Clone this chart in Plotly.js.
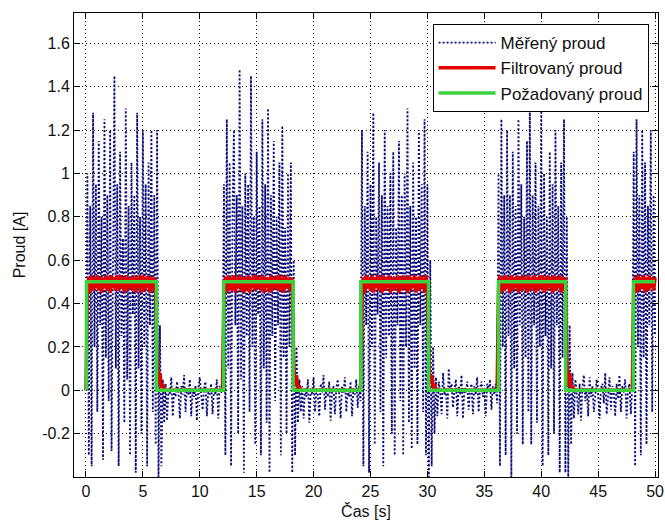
<!DOCTYPE html>
<html>
<head>
<meta charset="utf-8">
<script src="https://cdn.plot.ly/plotly-3.0.1.min.js"></script>
<style>
html,body{margin:0;padding:0;background:#fff;}
#chart{width:665px;height:525px;}
</style>
</head>
<body>
<div id="chart"></div>
<script>
// Sampling of the measured and filtered signals (seconds)
var sampleStart = 0;
var sampleStep = 0.125;

// Měřený proud – one row per second (8 samples), last value at t = 50 s
var measuredCurrent = [
  0.00, 1.00, -0.30, 0.85, -0.35, 1.28, 0.20, 0.95,
  -0.10, 1.15, 0.30, 0.80, -0.32, 1.25, 0.15, 0.90,
  -0.05, 1.20, -0.28, 0.75, 1.45, 0.10, 0.95, -0.35,
  1.10, 0.25, 0.70, -0.15, 1.30, 0.05, 0.85, -0.30,
  1.05, 0.35, 0.90, -0.38, 1.28, 0.10, 0.80, -0.20,
  1.20, 0.20, 0.95, -0.35, 1.05, 0.30, 1.20, -0.10,
  0.90, -0.25, 1.20, -0.40, 0.30, -0.35, 0.05, -0.15,
  0.03, -0.14, 0.01, -0.02, 0.06, -0.12, 0.00, -0.03,
  0.04, -0.01, -0.13, 0.02, -0.02, 0.07, -0.10, 0.01,
  -0.02, 0.05, -0.12, 0.00, -0.03, 0.02, -0.14, 0.01,
  0.06, -0.02, -0.09, 0.01, 0.04, -0.12, 0.00, -0.02,
  0.03, -0.11, 0.01, -0.02, 0.05, -0.13, 0.02, -0.01,
  0.00, 0.95, -0.30, 1.25, 0.10, 1.05, -0.35, 0.80,
  1.20, 0.30, 0.90, -0.20, 1.48, 0.05, 0.85, -0.38,
  1.00, 0.25, 0.95, -0.10, 1.45, 0.20, 0.80, -0.25,
  1.10, 0.35, 0.85, -0.30, 1.25, 0.10, 0.95, -0.15,
  1.30, -0.38, 0.90, 0.25, 1.15, -0.05, 0.80, 0.30,
  1.05, -0.30, 1.22, 0.15, 0.75, -0.20, 1.00, 0.20,
  1.05, -0.38, 0.60, -0.30, 0.20, -0.15, 0.05, -0.10,
  0.02, -0.13, 0.01, -0.03, 0.05, -0.15, 0.00, -0.02,
  0.06, -0.10, 0.01, -0.02, -0.12, 0.03, -0.01, 0.07,
  -0.09, 0.01, -0.03, 0.04, -0.14, 0.00, 0.02, -0.11,
  0.01, 0.05, -0.02, -0.13, 0.02, -0.01, 0.06, -0.10,
  0.00, -0.03, 0.04, -0.12, 0.01, -0.02, 0.05, -0.08,
  0.02, -0.05, 1.20, -0.35, 0.85, 0.30, 1.10, -0.38,
  0.95, 0.20, 1.28, -0.25, 0.80, 0.35, 1.05, -0.10,
  0.90, -0.35, 1.20, 0.15, 0.85, 0.25, 1.00, -0.20,
  1.10, -0.30, 0.75, 0.30, 1.15, -0.05, 0.90, -0.30,
  1.00, 0.20, 1.30, -0.15, 0.85, -0.27, 1.05, 0.10,
  0.80, -0.25, 1.20, 0.30, 0.95, -0.10, 1.25, -0.30,
  0.95, -0.40, 0.60, -0.35, 0.20, -0.20, 0.06, -0.12,
  0.04, -0.01, -0.11, 0.08, -0.02, 0.01, -0.13, 0.10,
  -0.01, 0.03, -0.08, 0.00, 0.05, -0.12, 0.02, -0.02,
  0.07, -0.13, 0.01, -0.01, 0.04, -0.09, 0.00, 0.03,
  -0.11, 0.02, -0.02, 0.06, -0.10, 0.01, 0.04, -0.03,
  0.00, -0.12, 0.03, -0.01, 0.05, -0.09, 0.02, -0.02,
  0.03, -0.06, 1.00, -0.35, 1.25, 0.20, 0.90, -0.30,
  1.20, 0.25, 0.90, -0.40, 1.10, 0.10, 0.85, -0.20,
  1.25, 0.30, 0.95, -0.25, 0.80, 0.15, 1.15, -0.10,
  1.30, -0.25, 0.90, 0.30, 1.05, -0.15, 0.85, 0.20,
  1.30, -0.35, 1.00, 0.25, 0.80, -0.30, 1.10, 0.10,
  0.95, -0.20, 1.20, 0.30, 0.85, -0.38, 1.05, 0.15,
  1.25, -0.38, 0.80, -0.40, 0.30, -0.25, 0.08, -0.13,
  0.05, -0.01, -0.11, 0.03, -0.14, 0.02, 0.07, -0.05,
  0.01, -0.12, 0.06, -0.03, 0.02, -0.10, 0.00, 0.05,
  -0.02, -0.13, 0.01, 0.03, -0.06, 0.08, -0.11, 0.00,
  0.06, -0.09, 0.02, -0.01, -0.12, 0.03, -0.04, 0.07,
  -0.10, 0.02, -0.01, 0.05, -0.13, 0.00, 0.03, -0.11,
  0.02, 1.10, -0.35, 1.25, 0.20, 0.90, -0.30, 1.20,
  0.15, 1.05, -0.25, 0.85, 0.30, 1.20, -0.10, 0.90,
  0.25
];

// Filtrovaný proud – same sampling
var filteredCurrent = [
  0.00, 0.46, 0.52, 0.45, 0.53, 0.46, 0.52, 0.47,
  0.53, 0.46, 0.52, 0.45, 0.52, 0.47, 0.53, 0.46,
  0.52, 0.45, 0.53, 0.47, 0.52, 0.46, 0.53, 0.46,
  0.53, 0.47, 0.52, 0.45, 0.53, 0.46, 0.52, 0.47,
  0.52, 0.46, 0.53, 0.45, 0.52, 0.47, 0.53, 0.45,
  0.53, 0.46, 0.52, 0.47, 0.53, 0.45, 0.52, 0.46,
  0.52, 0.47, 0.13, 0.03, 0.08, 0.01, 0.03, 0.00,
  0, 0, 0, 0, 0, 0, 0, 0,
  0, 0, 0, 0, 0, 0, 0, 0,
  0, 0, 0, 0, 0, 0, 0, 0,
  0, 0, 0, 0, 0, 0, 0, 0,
  0, 0, 0, 0, 0, 0, 0, 0,
  0.00, 0.47, 0.52, 0.45, 0.53, 0.46, 0.52, 0.46,
  0.53, 0.45, 0.52, 0.47, 0.53, 0.46, 0.52, 0.45,
  0.52, 0.46, 0.53, 0.45, 0.52, 0.47, 0.53, 0.46,
  0.53, 0.47, 0.52, 0.46, 0.53, 0.45, 0.52, 0.47,
  0.52, 0.45, 0.53, 0.46, 0.52, 0.47, 0.53, 0.46,
  0.53, 0.46, 0.52, 0.45, 0.53, 0.47, 0.52, 0.46,
  0.52, 0.46, 0.12, 0.02, 0.07, 0.01, 0.02, 0.00,
  0, 0, 0, 0, 0, 0, 0, 0,
  0, 0, 0, 0, 0, 0, 0, 0,
  0, 0, 0, 0, 0, 0, 0, 0,
  0, 0, 0, 0, 0, 0, 0, 0,
  0, 0, 0, 0, 0, 0, 0, 0,
  0.00, 0.00, 0.46, 0.52, 0.45, 0.53, 0.47, 0.52,
  0.46, 0.53, 0.45, 0.52, 0.47, 0.53, 0.46, 0.52,
  0.45, 0.53, 0.46, 0.52, 0.47, 0.53, 0.45, 0.52,
  0.46, 0.52, 0.47, 0.53, 0.45, 0.52, 0.46, 0.53,
  0.47, 0.52, 0.45, 0.53, 0.46, 0.52, 0.47, 0.53,
  0.45, 0.52, 0.46, 0.53, 0.47, 0.52, 0.45, 0.53,
  0.46, 0.12, 0.03, 0.07, 0.01, 0.03, 0.00, 0.00,
  0, 0, 0, 0, 0, 0, 0, 0,
  0, 0, 0, 0, 0, 0, 0, 0,
  0, 0, 0, 0, 0, 0, 0, 0,
  0, 0, 0, 0, 0, 0, 0, 0,
  0, 0, 0, 0, 0, 0, 0, 0,
  0.00, 0.00, 0.47, 0.53, 0.45, 0.52, 0.46, 0.53,
  0.47, 0.52, 0.45, 0.53, 0.46, 0.52, 0.47, 0.53,
  0.45, 0.52, 0.46, 0.53, 0.47, 0.52, 0.45, 0.53,
  0.46, 0.52, 0.47, 0.53, 0.45, 0.52, 0.46, 0.53,
  0.47, 0.53, 0.45, 0.52, 0.46, 0.53, 0.47, 0.52,
  0.45, 0.53, 0.46, 0.52, 0.47, 0.53, 0.45, 0.52,
  0.46, 0.52, 0.12, 0.02, 0.08, 0.01, 0.02, 0.00,
  0, 0, 0, 0, 0, 0, 0, 0,
  0, 0, 0, 0, 0, 0, 0, 0,
  0, 0, 0, 0, 0, 0, 0, 0,
  0, 0, 0, 0, 0, 0, 0, 0,
  0, 0, 0, 0, 0, 0, 0, 0,
  0.00, 0.47, 0.52, 0.45, 0.53, 0.46, 0.52, 0.47,
  0.53, 0.45, 0.52, 0.46, 0.53, 0.47, 0.52, 0.46,
  0.52
];

// Požadovaný proud – step profile (switch times and levels)
var switchTimes = [0.05, 0.05, 6.2, 12.1, 18.2, 24.15, 30.1, 36.25, 42.15, 48.1, 50];
var requiredLevels = [0, 0.5, 0, 0.5, 0, 0.5, 0, 0.5, 0, 0.5, 0.5];

var seriesNames = ['Měřený proud', 'Filtrovaný proud', 'Požadovaný proud'];
var xTickVals = [0, 5, 10, 15, 20, 25, 30, 35, 40, 45, 50];
var yTickVals = [-0.2, 0, 0.2, 0.4, 0.6, 0.8, 1, 1.2, 1.4, 1.6];
var yTickText = ['-0.2', '0', '0.2', '0.4', '0.6', '0.8', '1', '1.2', '1.4', '1.6'];

var FONT = 'Liberation Sans, Arial, sans-serif';

var traces = [
  {
    type: 'scatter', mode: 'lines', name: seriesNames[0],
    x0: sampleStart, dx: sampleStep, y: measuredCurrent,
    line: {color: '#0a0a78', width: 1.8, dash: '2px,2px'}
  },
  {
    type: 'scatter', mode: 'lines', name: seriesNames[1],
    x0: sampleStart, dx: sampleStep, y: filteredCurrent,
    line: {color: '#e00000', width: 3.5}
  },
  {
    type: 'scatter', mode: 'lines', name: seriesNames[2],
    x: switchTimes, y: requiredLevels,
    line: {color: '#3cd23c', width: 3.5, shape: 'hv'}
  }
];

var axisCommon = {
  showline: true, linecolor: '#000', linewidth: 1, mirror: 'ticks',
  ticks: 'inside', ticklen: 6, tickcolor: '#000', tickwidth: 1,
  showgrid: true, gridcolor: '#000', gridwidth: 1, griddash: '1px,3px',
  zeroline: false,
  tickfont: {family: FONT, size: 16, color: '#111'}
};

var layout = {
  width: 665, height: 525,
  margin: {l: 74, r: 7, t: 13, b: 48},
  paper_bgcolor: '#fff', plot_bgcolor: '#fff',
  font: {family: FONT, size: 16, color: '#111'},
  showlegend: true,
  legend: {
    x: 0.614, y: 0.976, xanchor: 'left', yanchor: 'top',
    bgcolor: '#fff', bordercolor: '#000', borderwidth: 1,
    font: {family: FONT, size: 17, color: '#111'},
    itemwidth: 57, traceorder: 'normal'
  },
  xaxis: Object.assign({}, axisCommon, {
    range: [-1.05, 50.26], tickmode: 'array', tickvals: xTickVals,
    title: {text: 'Čas [s]', font: {family: FONT, size: 16, color: '#111'}, standoff: 6}
  }),
  yaxis: Object.assign({}, axisCommon, {
    range: [-0.40, 1.74], tickmode: 'array', tickvals: yTickVals, ticktext: yTickText,
    title: {text: 'Proud [A]', font: {family: FONT, size: 16, color: '#111'}, standoff: 12}
  })
};

Plotly.newPlot('chart', traces, layout, {displayModeBar: false, staticPlot: true});
</script>
</body>
</html>
